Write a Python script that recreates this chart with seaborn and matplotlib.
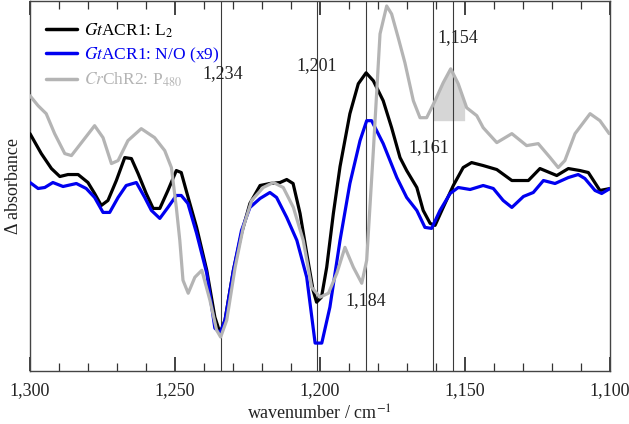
import numpy as np
import pandas as pd
import matplotlib
matplotlib.use("Agg")
import matplotlib.pyplot as plt
import seaborn as sns

# ---------------- data (arbitrary absorbance units) ----------------
wn_l2 = [1300.0, 1296.1, 1292.6, 1289.7, 1286.9, 1283.4, 1280.0, 1277.7, 1275.4, 1273.1,
         1270.2, 1267.3, 1265.0, 1262.7, 1259.9, 1257.5, 1255.2, 1252.4, 1249.5, 1247.8,
         1245.9, 1242.5, 1239.0, 1236.2, 1234.4, 1232.7, 1229.8, 1227.0, 1224.1, 1220.6,
         1217.2, 1213.7, 1211.4, 1209.2, 1206.8, 1204.5, 1202.3, 1201.1, 1199.4, 1197.6,
         1195.3, 1193.0, 1189.6, 1186.7, 1184.0, 1181.5, 1178.1, 1175.2, 1172.3, 1170.0,
         1166.5, 1164.3, 1161.9, 1160.2, 1157.4, 1153.9, 1150.5, 1147.6, 1143.6, 1138.9,
         1133.7, 1128.0, 1124.0, 1118.2, 1114.2, 1110.2, 1107.3, 1103.3, 1099.8]
abs_l2 = [238, 218, 203, 195, 197, 197, 189, 178, 166, 171,
          191, 214, 213, 198, 178, 163, 163, 181, 201, 199,
          179, 144, 101, 54, 38, 51, 101, 138, 168, 186,
          188, 189, 192, 188, 158, 118, 81, 69, 74, 104,
          158, 205, 258, 288, 299, 291, 271, 244, 214, 201,
          184, 161, 148, 146, 164, 186, 204, 209, 206, 202,
          191, 191, 203, 196, 203, 201, 199, 181, 183]

wn_no = [1300.0, 1297.2, 1294.9, 1292.1, 1288.6, 1284.0, 1280.6, 1277.7, 1274.8, 1272.5,
         1269.6, 1266.8, 1263.3, 1260.4, 1258.1, 1255.2, 1252.4, 1249.5, 1247.8, 1245.5,
         1242.5, 1239.0, 1236.2, 1234.4, 1232.7, 1229.8, 1227.0, 1224.1, 1220.6, 1217.2,
         1214.9, 1211.4, 1207.9, 1204.5, 1201.6, 1199.3, 1196.5, 1193.0, 1189.6, 1186.1,
         1183.8, 1182.1, 1178.1, 1173.4, 1170.0, 1166.5, 1163.7, 1161.4, 1158.5, 1155.0,
         1152.2, 1148.1, 1143.6, 1140.1, 1136.7, 1133.7, 1129.7, 1126.3, 1122.8, 1118.8,
         1114.2, 1110.8, 1108.5, 1105.0, 1102.7, 1099.8]
abs_no = [189, 183, 184, 189, 185, 188, 183, 174, 159, 159,
          174, 186, 189, 174, 161, 153, 164, 176, 176, 168,
          138, 98, 43, 38, 51, 101, 141, 164, 173, 179,
          174, 154, 131, 94, 28, 28, 64, 131, 188, 231,
          251, 251, 228, 194, 174, 161, 144, 143, 161, 178,
          184, 182, 186, 183, 171, 164, 175, 179, 191, 188,
          194, 197, 193, 181, 178, 183]

wn_p480 = [1300.0, 1297.2, 1294.4, 1291.5, 1288.0, 1285.7, 1281.7, 1277.7, 1274.8, 1271.9,
           1269.6, 1266.2, 1261.6, 1257.0, 1253.5, 1251.2, 1249.5, 1248.3, 1247.2, 1245.4,
           1243.1, 1240.7, 1237.9, 1235.6, 1234.2, 1232.1, 1229.2, 1226.4, 1223.5, 1219.5,
           1216.0, 1212.6, 1209.1, 1205.7, 1202.8, 1199.9, 1197.0, 1194.1, 1191.3, 1188.4,
           1185.5, 1183.8, 1181.5, 1179.2, 1176.9, 1175.2, 1172.9, 1170.6, 1167.7, 1165.4,
           1163.1, 1160.2, 1157.4, 1154.8, 1152.2, 1149.3, 1145.8, 1143.6, 1138.9, 1133.7,
           1128.6, 1124.6, 1120.5, 1117.7, 1115.4, 1111.9, 1106.7, 1103.3, 1100.1]
abs_p480 = [276, 266, 258, 238, 218, 216, 231, 246, 234, 208,
            211, 231, 243, 234, 221, 204, 164, 131, 91, 78,
            94, 101, 71, 41, 34, 51, 104, 144, 171, 184,
            189, 184, 164, 131, 84, 74, 78, 98, 124, 104,
            88, 111, 221, 338, 366, 358, 334, 309, 271, 254,
            254, 271, 289, 303, 288, 264, 256, 244, 229, 238,
            226, 228, 214, 204, 211, 238, 258, 251, 238]

series_labels = [r"$\mathit{Gt}$ACR1: L$_2$", r"$\mathit{Gt}$ACR1: N/O (x9)", r"$\mathit{Cr}$ChR2: P$_{480}$"]
series_colors = ["#000000", "#0000f0", "#b4b4b4"]

marker_wn = [1234, 1201, 1184, 1161, 1154]
marker_text = ["1,234", "1,201", "1,184", "1,161", "1,154"]
marker_text_pos = [(1233.5, 298), (1201, 306), (1184, 71), (1162.3, 224), (1152.3, 334)]

shade_range = (1161, 1150)
shade_base = 251

xticks = [1300, 1250, 1200, 1150, 1100]
xtick_labels = ["1,300", "1,250", "1,200", "1,150", "1,100"]

# ---------------- plotting ----------------
sns.set_theme(style="ticks")
plt.rcParams["font.family"] = ["Liberation Serif", "DejaVu Serif"]
plt.rcParams["mathtext.fontset"] = "stix"

fig = plt.figure(figsize=(6.29, 4.24), dpi=100)
ax = fig.add_axes([30 / 629, 53 / 424, 579.5 / 629, 370 / 424])

frames = []
for name, wn, ab in zip(series_labels, [wn_l2, wn_no, wn_p480], [abs_l2, abs_no, abs_p480]):
    frames.append(pd.DataFrame({"wn": wn, "abs": ab, "series": name}))
df = pd.concat(frames, ignore_index=True)

# shaded band under CrChR2 peak
gx = np.array(wn_p480)[::-1]
gy = np.array(abs_p480)[::-1]
inner = gx[(gx > shade_range[1]) & (gx < shade_range[0])]
sx = np.concatenate([[shade_range[1]], inner, [shade_range[0]]])
sy = np.interp(sx, gx, gy)
ax.fill_between(sx, sy, shade_base, color="#d6d6d6", lw=0, zorder=1)

for w in marker_wn:
    ax.axvline(w, color="#3a3a3a", lw=0.8, zorder=2)

sns.lineplot(data=df, x="wn", y="abs", hue="series", palette=series_colors,
             hue_order=series_labels, estimator=None, sort=False, lw=2.3, ax=ax, zorder=3)

for (tx, ty), t in zip(marker_text_pos, marker_text):
    ax.text(tx, ty, t, ha="center", va="center", fontsize=13, color="#222222", zorder=4)

ax.set_xlim(1300, 1100)
ax.set_ylim(0, 371)
ax.set_xticks(xticks)
ax.set_xticklabels(xtick_labels, fontsize=13, color="#222222")
ax.set_xticks(np.arange(1100, 1301, 10), minor=True)
ax.set_yticks([])
ax.tick_params(axis="x", which="major", direction="in", length=10, width=1.2,
               top=True, bottom=True, pad=8, color="#222222")
ax.tick_params(axis="x", which="minor", direction="in", length=6, width=0.9,
               top=True, bottom=True, color="#333333")
for s in ax.spines.values():
    s.set_color("#444444")
    s.set_linewidth(1.0)

ax.set_xlabel("wavenumber / cm$^{-1}$", fontsize=13, color="#222222", labelpad=4)
ax.set_ylabel("Δ absorbance", fontsize=13, color="#222222", labelpad=6)

leg = ax.legend(loc="upper left", frameon=False, fontsize=12.5, handlelength=1.75,
                handletextpad=0.45, labelspacing=0.35, borderaxespad=0.4,
                bbox_to_anchor=(0.004, 0.983))
for txt, c in zip(leg.get_texts(), series_colors):
    txt.set_color(c)
for line in leg.get_lines():
    line.set_linewidth(2.5)

fig.savefig("out.png", dpi=100)
